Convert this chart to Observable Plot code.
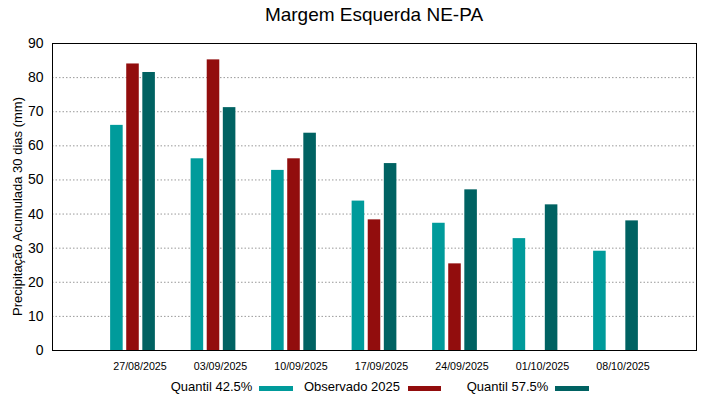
<!DOCTYPE html>
<html><head><meta charset="utf-8">
<script src="https://cdn.jsdelivr.net/npm/d3@7"></script>
<script src="https://cdn.jsdelivr.net/npm/@observablehq/plot@0.6"></script>
<style>
body{margin:0;background:#fff;font-family:"Liberation Sans",Arial,sans-serif;}
#wrap{position:relative;width:719px;height:399px;overflow:hidden;}
#title{position:absolute;left:0;width:748px;top:4px;text-align:center;font-size:19px;color:#000;}
#legend{position:absolute;top:0;left:0;width:719px;height:399px;font-size:13px;color:#000;}
.li{position:absolute;top:379px;line-height:16px;white-space:nowrap;}
.sw{position:absolute;top:386px;height:5px;}
</style></head>
<body><div id="wrap"></div>
<script>
const dates = ["27/08/2025","03/09/2025","10/09/2025","17/09/2025","24/09/2025","01/10/2025","08/10/2025"];
const seriesNames = ["Quantil 42.5%","Observado 2025","Quantil 57.5%"];
const colors = ["#009b9b","#920d0d","#006262"];
const q425 = [66.0, 56.2, 52.8, 43.8, 37.3, 32.8, 29.1];
const obs2025 = [84.0, 85.2, 56.2, 38.3, 25.4, null, null];
const q575 = [81.5, 71.2, 63.7, 54.8, 47.1, 42.7, 38.0];
const yTicks = [0,10,20,30,40,50,60,70,80,90];
const gridTicks = [10,20,30,40,50,60,70,80];
const yLabel = "Precipitação Acumulada 30 dias (mm)";
const titleText = "Margem Esquerda NE-PA";

const all = [q425, obs2025, q575];
const rows = [];
all.forEach((vals, s) => vals.forEach((v, i) => {
  if (v != null) rows.push({series: seriesNames[s], s, pos: i + 1, value: v});
}));
const half = 0.078, step = 0.2;

const chart = Plot.plot({
  width: 719, height: 399,
  marginLeft: 52, marginRight: 23, marginTop: 43, marginBottom: 49,
  style: {fontFamily: '"Liberation Sans",Arial,sans-serif', background: "#fff"},
  x: {domain: [0, 8]},
  y: {domain: [0, 90]},
  color: {domain: seriesNames, range: colors},
  marks: [
    Plot.ruleY(gridTicks, {stroke: "#999", strokeDasharray: "1.5,2", strokeWidth: 1}),
    Plot.rectY(rows, {
      x1: d => d.pos + (d.s - 1) * step - half,
      x2: d => d.pos + (d.s - 1) * step + half,
      y1: 0, y2: "value", fill: "series"
    }),
    Plot.axisY({ticks: yTicks, tickSize: 0, tickPadding: 9, fontSize: 14, label: null}),
    Plot.tickY(yTicks.slice(1, -1), {frameAnchor: "left"}),
    Plot.axisX({ticks: [1,2,3,4,5,6,7], tickFormat: i => dates[i - 1], tickSize: 0, tickPadding: 12, fontSize: 10.7, dx: 7, label: null}),
    Plot.text([yLabel], {frameAnchor: "left", text: d => d, rotate: -90, dx: -35, dy: 9.5, fontSize: 13, lineAnchor: "middle", textAnchor: "middle", fill: "#000"}),
    Plot.frame({stroke: "#000"})
  ].filter((m, k) => k !== 3)
});
const wrap = document.getElementById("wrap");
wrap.appendChild(chart);
chart.style.position = "absolute"; chart.style.left = "0"; chart.style.top = "0";

const title = document.createElement("div");
title.id = "title"; title.textContent = titleText;
wrap.appendChild(title);

const leg = document.createElement("div");
leg.id = "legend";
const items = [
  {textRight: 252.3, sw1: 259.3, sw2: 293.3},
  {textRight: 400, sw1: 407.7, sw2: 441},
  {textRight: 548.3, sw1: 555, sw2: 589}
];
items.forEach((it, k) => {
  const t = document.createElement("div");
  t.className = "li"; t.textContent = seriesNames[k];
  t.style.right = (719 - it.textRight) + "px";
  leg.appendChild(t);
  const s = document.createElement("div");
  s.className = "sw"; s.style.left = it.sw1 + "px"; s.style.width = (it.sw2 - it.sw1) + "px";
  s.style.background = colors[k];
  leg.appendChild(s);
});
wrap.appendChild(leg);
</script></body></html>
